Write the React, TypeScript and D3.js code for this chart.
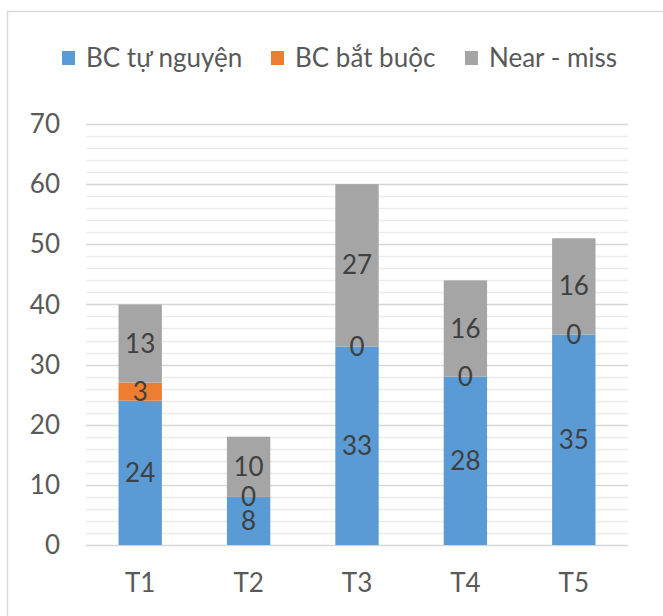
import React, { useRef, useEffect } from 'react';
import * as d3 from 'd3';

const months = ['T1', 'T2', 'T3', 'T4', 'T5'];
const voluntary = [24, 8, 33, 28, 35];
const mandatory = [3, 0, 0, 0, 0];
const nearMiss = [13, 10, 27, 16, 16];
const seriesNames = ['BC tự nguyện', 'BC bắt buộc', 'Near - miss'];
const seriesColors = ['#5B9BD5', '#ED7D31', '#A5A5A5'];
const yTicks = [0, 10, 20, 30, 40, 50, 60, 70];

const FONT = 'Lato, "Open Sans", sans-serif';
const FONT_SIZE = '26px';

const App = () => {
  const chartRef = useRef<HTMLDivElement>(null);

  useEffect(() => {
    const width = 663;
    const height = 616;
    const margin = { top: 124, left: 86, right: 35, bottom: 71 };

    d3.select(chartRef.current).select('svg').remove();

    const svg = d3.select(chartRef.current)
      .append('svg')
      .attr('width', width)
      .attr('height', height)
      .style('position', 'absolute')
      .style('left', '0px')
      .style('top', '0px')
      .style('background', '#fff');

    // chart area border
    svg.append('rect')
      .attr('x', 7.5)
      .attr('y', 11.5)
      .attr('width', 700)
      .attr('height', 700)
      .attr('fill', '#fff')
      .attr('stroke', '#D9D9D9')
      .attr('stroke-width', 1.5);

    const x = d3.scaleBand()
      .domain(months)
      .range([margin.left, width - margin.right])
      .paddingInner(0.6)
      .paddingOuter(0.3);

    const y = d3.scaleLinear()
      .domain([0, 70])
      .range([height - margin.bottom, margin.top]);

    // minor gridlines every 2
    svg.append('g')
      .selectAll('line')
      .data(d3.range(2, 70, 2).filter(v => v % 10 !== 0))
      .enter().append('line')
      .attr('x1', margin.left)
      .attr('x2', width - margin.right)
      .attr('y1', d => Math.round(y(d)) + 0.5)
      .attr('y2', d => Math.round(y(d)) + 0.5)
      .attr('stroke', '#EBEBEB')
      .attr('stroke-width', 1.3);

    // major gridlines
    svg.append('g')
      .selectAll('line')
      .data(yTicks)
      .enter().append('line')
      .attr('x1', margin.left)
      .attr('x2', width - margin.right)
      .attr('y1', d => Math.round(y(d)) + 0.5)
      .attr('y2', d => Math.round(y(d)) + 0.5)
      .attr('stroke', '#D6D6D6')
      .attr('stroke-width', 1.6);

    // y tick labels
    svg.append('g')
      .selectAll('text')
      .data(yTicks)
      .enter().append('text')
      .attr('x', 60)
      .attr('y', d => y(d))
      .attr('dy', '0.35em')
      .attr('text-anchor', 'end')
      .attr('fill', '#595959')
      .style('font-family', FONT)
      .style('font-size', FONT_SIZE)
      .text(d => d);

    // stack data
    const data = months.map((m, i) => ({
      month: m,
      a: voluntary[i],
      b: mandatory[i],
      c: nearMiss[i],
    }));
    const stack = d3.stack<any>().keys(['a', 'b', 'c']);
    const layers = stack(data);

    const layerG = svg.selectAll('.layer')
      .data(layers)
      .enter().append('g')
      .attr('class', 'layer')
      .attr('fill', (d, i) => seriesColors[i]);

    layerG.selectAll('rect')
      .data(d => d)
      .enter().append('rect')
      .attr('x', d => x(d.data.month)!)
      .attr('width', x.bandwidth())
      .attr('y', d => y(d[1]))
      .attr('height', d => y(d[0]) - y(d[1]));

    // data labels
    layers.forEach(layer => {
      svg.append('g')
        .selectAll('text')
        .data(layer)
        .enter().append('text')
        .attr('x', d => x(d.data.month)! + x.bandwidth() / 2)
        .attr('y', d => y((d[0] + d[1]) / 2))
        .attr('dy', '0.35em')
        .attr('text-anchor', 'middle')
        .attr('fill', '#404040')
        .style('font-family', FONT)
        .style('font-size', FONT_SIZE)
        .text(d => d[1] - d[0]);
    });

    // x labels
    svg.append('g')
      .selectAll('text')
      .data(months)
      .enter().append('text')
      .attr('x', d => x(d)! + x.bandwidth() / 2)
      .attr('y', 583)
      .attr('dy', '0.35em')
      .attr('text-anchor', 'middle')
      .attr('fill', '#595959')
      .style('font-family', FONT)
      .style('font-size', FONT_SIZE)
      .text(d => d);

    // legend
    const legendX = [62, 271, 465];
    const legend = svg.append('g')
      .selectAll('g')
      .data(seriesNames)
      .enter().append('g')
      .attr('transform', (d, i) => `translate(${legendX[i]}, 58)`);

    legend.append('rect')
      .attr('x', 0)
      .attr('y', -7)
      .attr('width', 13)
      .attr('height', 14)
      .attr('fill', (d, i) => seriesColors[i]);

    legend.append('text')
      .attr('x', 24)
      .attr('y', 0)
      .attr('dy', '0.35em')
      .attr('fill', '#595959')
      .style('font-family', FONT)
      .style('font-size', FONT_SIZE)
      .text(d => d);
  }, []);

  return <div ref={chartRef}></div>;
};

export default App;
